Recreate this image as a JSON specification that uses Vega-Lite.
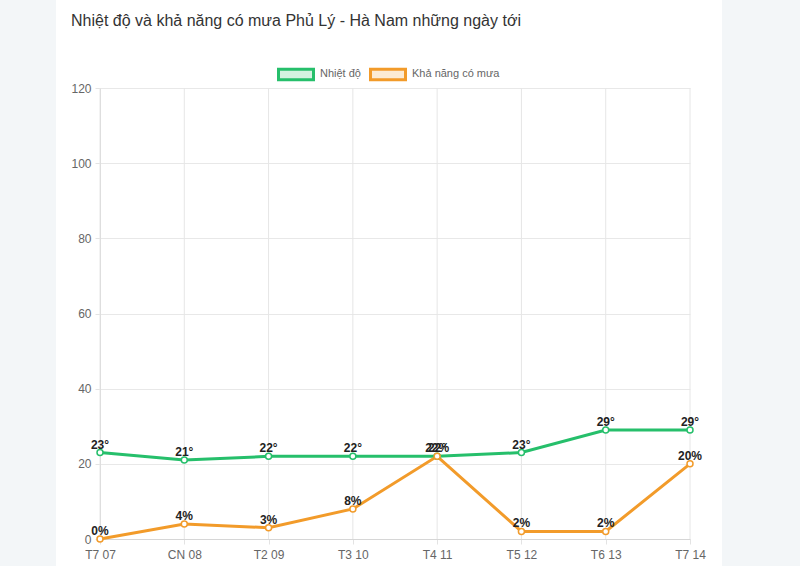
{
  "$schema": "https://vega.github.io/schema/vega-lite/v6.json",
  "width": 666,
  "height": 566,
  "autosize": {"type": "none"},
  "padding": {"left": 56, "right": 78, "top": 0, "bottom": 0},
  "background": "#f3f6f8",
  "config": {
    "view": {"fill": "white", "stroke": null},
    "font": "Liberation Sans"
  },
  "title": {
    "text": "Nhiệt độ và khả năng có mưa Phủ Lý - Hà Nam những ngày tới",
    "anchor": "start",
    "frame": "group",
    "orient": "top",
    "offset": 0,
    "dx": 15,
    "dy": 42,
    "baseline": "alphabetic",
    "fontSize": 16,
    "fontWeight": "normal",
    "color": "#333333",
    "font": "Liberation Sans"
  },
  "data": {
    "values": [
      {"day": "T7 07", "series": "Nhiệt độ", "value": 23, "label": "23°"},
      {"day": "CN 08", "series": "Nhiệt độ", "value": 21, "label": "21°"},
      {"day": "T2 09", "series": "Nhiệt độ", "value": 22, "label": "22°"},
      {"day": "T3 10", "series": "Nhiệt độ", "value": 22, "label": "22°"},
      {"day": "T4 11", "series": "Nhiệt độ", "value": 22, "label": "22°"},
      {"day": "T5 12", "series": "Nhiệt độ", "value": 23, "label": "23°"},
      {"day": "T6 13", "series": "Nhiệt độ", "value": 29, "label": "29°"},
      {"day": "T7 14", "series": "Nhiệt độ", "value": 29, "label": "29°"},
      {"day": "T7 07", "series": "Khả năng có mưa", "value": 0, "label": "0%"},
      {"day": "CN 08", "series": "Khả năng có mưa", "value": 4, "label": "4%"},
      {"day": "T2 09", "series": "Khả năng có mưa", "value": 3, "label": "3%"},
      {"day": "T3 10", "series": "Khả năng có mưa", "value": 8, "label": "8%"},
      {"day": "T4 11", "series": "Khả năng có mưa", "value": 22, "label": "22%"},
      {"day": "T5 12", "series": "Khả năng có mưa", "value": 2, "label": "2%"},
      {"day": "T6 13", "series": "Khả năng có mưa", "value": 2, "label": "2%"},
      {"day": "T7 14", "series": "Khả năng có mưa", "value": 20, "label": "20%"}
    ]
  },
  "encoding": {
    "x": {
      "field": "day",
      "type": "ordinal",
      "sort": null,
      "scale": {"type": "point", "range": [44, 634], "padding": 0},
      "axis": {
        "title": null,
        "labelAngle": 0,
        "grid": false,
        "domain": true,
        "domainColor": "#d6d6d6",
        "tickColor": "#e3e3e3",
        "tickSize": 5,
        "labelPadding": 5,
        "labelColor": "#666666",
        "labelFontSize": 12,
        "labelFont": "Liberation Sans",
        "offset": -27
      }
    },
    "y": {
      "field": "value",
      "type": "quantitative",
      "scale": {"domain": [0, 120], "range": [539, 88], "nice": false, "zero": true},
      "axis": {
        "title": null,
        "values": [0, 20, 40, 60, 80, 100, 120],
        "grid": true,
        "gridColor": "#e8e8e8",
        "domain": true,
        "domainColor": "#d6d6d6",
        "tickColor": "#e3e3e3",
        "tickSize": 5,
        "labelPadding": 4,
        "labelColor": "#666666",
        "labelFontSize": 12,
        "labelFont": "Liberation Sans",
        "offset": -44
      }
    }
  },
  "layer": [
    {
      "transform": [{"filter": "datum.series === 'Nhiệt độ'"}],
      "mark": {"type": "rule", "color": "#e6e6e6", "strokeWidth": 1},
      "encoding": {
        "y": {"datum": 0},
        "y2": {"datum": 120}
      }
    },
    {
      "mark": {"type": "line", "strokeWidth": 3},
      "encoding": {
        "color": {
          "field": "series",
          "type": "nominal",
          "sort": ["Nhiệt độ", "Khả năng có mưa"],
          "scale": {"domain": ["Nhiệt độ", "Khả năng có mưa"], "range": ["#26bf6b", "#f29b2a"]},
          "legend": {
            "orient": "none",
            "legendX": 221,
            "legendY": 55,
            "direction": "horizontal",
            "title": null,
            "symbolType": "M-1,-0.3H1V0.3H-1Z",
            "symbolSize": 1225,
            "symbolStrokeWidth": 3,
            "labelFontSize": 11,
            "labelColor": "#666666",
            "labelFont": "Liberation Sans",
            "labelOffset": 5,
            "columnPadding": 3,
            "encode": {
              "symbols": {
                "update": {
                  "fill": {"scale": "color", "field": "value"},
                  "fillOpacity": {"value": 0.2}
                }
              }
            }
          }
        },
        "order": {"field": "series", "sort": "ascending"}
      }
    },
    {
      "mark": {"type": "point", "filled": false, "fill": "white", "strokeWidth": 1.5, "size": 36, "opacity": 1},
      "encoding": {
        "color": {"field": "series", "type": "nominal", "legend": null}
      }
    },
    {
      "mark": {"type": "text", "baseline": "alphabetic", "align": "center", "dy": -4, "fontSize": 12, "fontWeight": "bold", "color": "#222222", "font": "Liberation Sans"},
      "encoding": {
        "text": {"field": "label", "type": "nominal"}
      }
    }
  ]
}
